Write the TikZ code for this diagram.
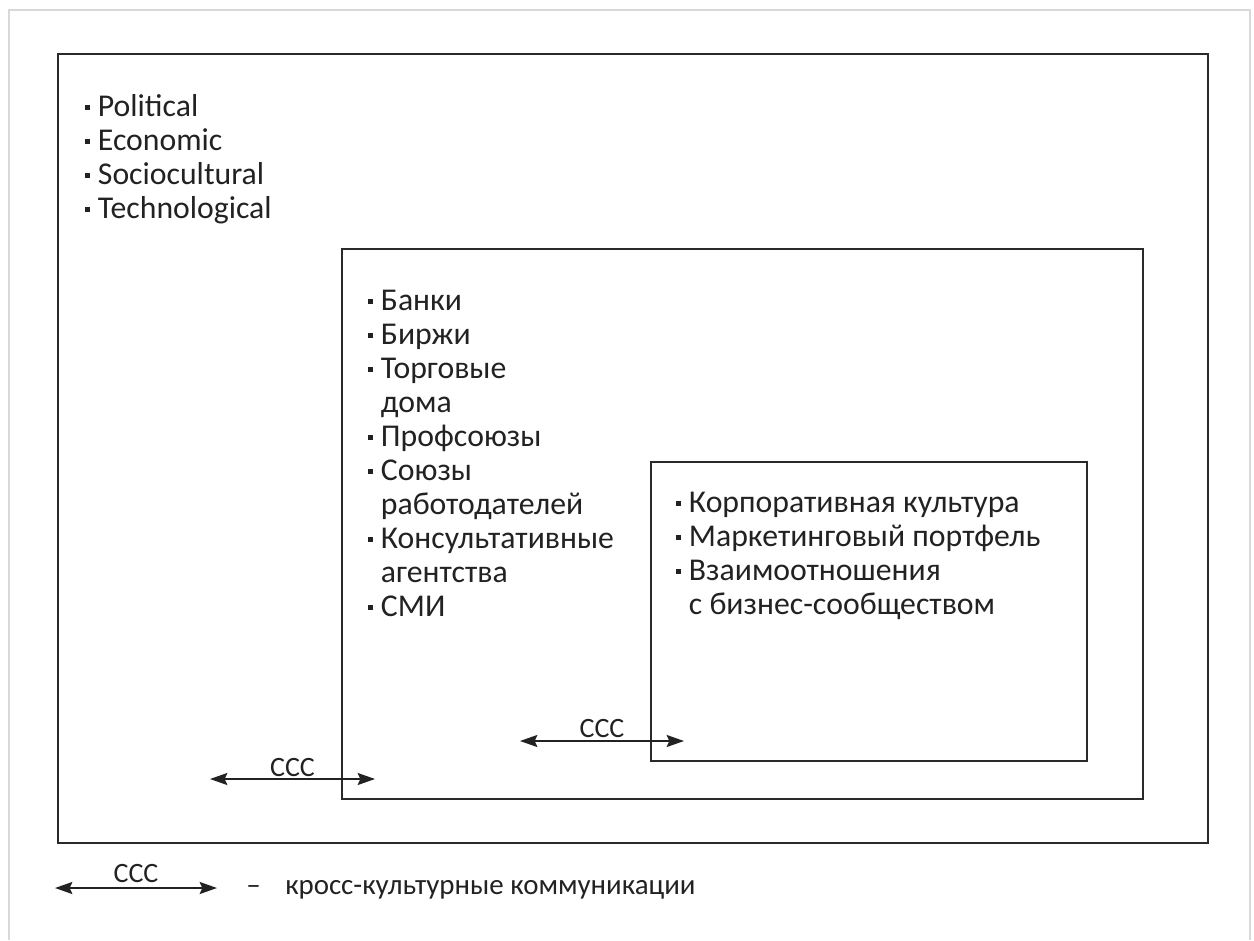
\documentclass[tikz,border=0pt]{standalone}
\usepackage{fontspec}
\setmainfont{Carlito}
\usetikzlibrary{arrows.meta}
\definecolor{ink}{HTML}{222222}
\definecolor{boxline}{HTML}{2A2A2A}
\newcommand\bul{\makebox[0.4em][l]{\rule[0.2em]{0.14em}{0.14em}}}
\newcommand\nob{\hspace*{0.4em}}
\tikzset{
  x=0.75pt, y=-0.75pt,
  frame/.style={draw=boxline, line width=1.7pt},
  listtext/.style={font=\fontsize{23.8}{25.5}\selectfont, text=ink, align=left, inner sep=0pt, anchor=base west},
  legendtext/.style={font=\fontsize{21.7}{25}\selectfont, text=ink, inner sep=0pt, anchor=base west},
  ccclabel/.style={font=\fontsize{21}{24}\selectfont, text=ink, inner sep=0pt, anchor=base},
  ccc/.style={draw=ink, line width=1.4pt, {Stealth[length=13pt,width=9pt,inset=2pt]}-{Stealth[length=13pt,width=9pt,inset=2pt]}},
}
\begin{document}
\begin{tikzpicture}
\useasboundingbox[fill=white] (0,0) rectangle (1254,940);
% page edge
\draw[gray!30, line width=1.5pt] (9,940) -- (9,10) -- (1250,10) -- (1250,940);
% boxes
\draw[frame] (58,54) rectangle (1208,843);
\draw[frame] (342,249) rectangle (1143,799);
\draw[frame] (651,462) rectangle (1087,761);
% lists (anchored at the baseline of their last line)
\node[listtext] (pest) at (85,218) {\bul Political\\ \bul Economic\\ \bul Sociocultural\\ \bul Technological};
\node[listtext] (meso) at (368,616) {\bul Банки\\ \bul Биржи\\ \bul Торговые\\ \nob дома\\ \bul Профсоюзы\\ \bul Союзы\\ \nob работодателей\\ \bul Консультативные\\ \nob агентства\\ \bul СМИ};
\node[listtext] (micro) at (676,614) {\bul Корпоративная культура\\ \bul Маркетинговый портфель\\ \bul Взаимоотношения\\ \nob с бизнес-сообществом};
% arrows
\coordinate (a1l) at (210,779); \coordinate (a1r) at (375,779);
\draw[ccc] (a1l) -- node[ccclabel, above=1pt] (l1) {CCC} (a1r);
\coordinate (a2l) at (520,741); \coordinate (a2r) at (684,741);
\draw[ccc] (a2l) -- node[ccclabel, above=2pt] (l2) {CCC} (a2r);
% legend
\coordinate (a3l) at (55,888); \coordinate (a3r) at (217,888);
\draw[ccc] (a3l) -- node[ccclabel, above=3pt] (l3) {CCC} (a3r);
\node[legendtext] (legend) at (246,894) {–\hspace{0.85em}кросс-культурные коммуникации};
\end{tikzpicture}
\end{document}
